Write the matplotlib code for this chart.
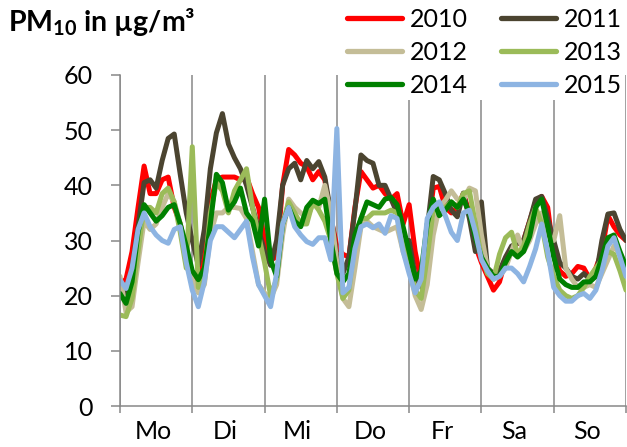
import matplotlib
matplotlib.use("Agg")
import matplotlib.pyplot as plt
import numpy as np

plt.rcParams["font.family"] = ["Lato", "DejaVu Sans"]
plt.rcParams["mathtext.fontset"] = "custom"
plt.rcParams["mathtext.bf"] = "Lato:bold"
plt.rcParams["mathtext.rm"] = "Lato"

# mean PM10 per 2-hour slot over the week, Monday 0h .. Monday 0h (85 values)
days = ["Mo", "Di", "Mi", "Do", "Fr", "Sa", "So"]
years = ["2010", "2011", "2012", "2013", "2014", "2015"]

pm_2010 = [22, 23, 28, 36, 43.5, 38.5, 38.5, 41, 41.5, 36, 33, 28,
           24, 21.5, 27, 37, 41, 41.5, 41.5, 41.5, 41, 41.5, 38.5, 36,
           30, 26.5, 27, 40, 46.5, 45.5, 44, 43.4, 41, 42.5, 41, 34,
           29, 27.5, 27, 36, 42.5, 41, 39.5, 40, 38.5, 37.5, 38.5, 33,
           36.5, 28, 22.5, 31, 39.5, 39.8, 36, 35, 36, 38.5, 35, 29,
           26, 23.5, 21, 22.5, 26.5, 28.5, 29.5, 30, 33.5, 37, 38, 36,
           27.5, 24.5, 23.5, 24, 25.3, 25, 23, 25, 28, 34.5, 32.5, 31,
           30]
pm_2011 = [21.6, 20.5, 25, 32.5, 40.5, 41, 39.5, 44.5, 48.5, 49.3, 42, 35,
           30, 25.5, 32, 43, 49.5, 53, 47.5, 45, 43, 40, 36, 32,
           28, 25.5, 30, 40, 43, 44, 41, 44.5, 43, 44.3, 41.5, 35,
           27, 24, 27, 35.5, 45.5, 44.5, 44, 40, 40, 37.5, 35, 30,
           30, 23.5, 21.6, 32, 41.6, 41, 38.5, 35.5, 34.3, 38.6, 34, 28,
           37, 25, 24, 24.5, 27, 29, 29.5, 30, 33.5, 37.5, 38, 34,
           30, 26, 25, 23.5, 23, 24, 23, 23.5, 30, 34.8, 35, 32,
           30]
pm_2012 = [23.5, 17, 18, 26, 33.5, 32, 33, 36, 38.5, 37, 33, 27,
           23, 20.5, 22, 31, 35, 35, 36, 36, 35.8, 34, 28, 22,
           20.5, 19.5, 22, 31, 37.5, 36, 35, 34, 36.5, 36, 40, 35,
           26, 19.5, 18, 25, 32.5, 33.5, 32.5, 32, 31.5, 32, 32.5, 28,
           25, 20, 17.5, 22, 31, 36, 37.3, 39, 37.5, 37.3, 39.5, 39,
           31, 25, 23, 23.5, 25, 28, 31, 28, 30, 33, 35, 31,
           30, 34.5, 25, 23, 21.5, 21.5, 22, 21.5, 24, 26.5, 29, 27.5,
           22.5]
pm_2013 = [16.5, 16.2, 19.5, 28, 36, 36, 35, 38.5, 39.5, 37, 31.5, 25,
           47, 21.5, 24, 35, 40.5, 39, 35, 39, 41, 43, 36, 31,
           26, 20, 23, 33, 37, 35, 33, 33, 37, 35.5, 33.5, 30,
           24, 19.5, 21, 30, 34, 34, 35, 35, 35, 35.5, 35, 31,
           27, 21, 19.5, 27, 35.5, 36, 36, 37, 36, 38.5, 39, 33,
           27, 24, 23, 27.5, 30.5, 31.5, 27.5, 29, 33, 36, 33, 27,
           23.5, 21, 20, 19.5, 20, 21.5, 23.5, 25, 26.5, 28, 27.5, 24.5,
           21]
pm_2014 = [20.4, 18.6, 22.5, 31.5, 36.5, 35, 33.5, 34.5, 36, 36.5, 33, 29,
           24.5, 22.9, 25, 33, 42, 40.5, 35.5, 37, 39.5, 35, 33.5, 29,
           37.5, 26.5, 23.5, 33, 36, 33.5, 32.5, 36, 37.3, 36.7, 37.5, 30,
           24, 22.5, 24, 31, 34, 37, 36.5, 36, 37.5, 37.8, 36.5, 32.5,
           28, 23, 24.5, 33, 37.5, 34.5, 35.5, 37, 36, 37.5, 35, 30.5,
           27, 25, 23.5, 23.5, 26, 28, 27, 28, 30.7, 36, 37.5, 32.5,
           27, 23, 22, 21.5, 21.5, 22.5, 22.5, 23.5, 27, 30.5, 31, 28,
           25.3]
pm_2015 = [22.8, 21.3, 25, 32, 35, 32.5, 31, 30, 29.5, 32, 32.5, 26,
           21, 18, 22.5, 30, 32.5, 32.5, 31.5, 30.5, 32, 33.5, 27, 22,
           20, 18, 24, 33, 36, 32.5, 31, 29.8, 29.3, 30.5, 30.5, 26.5,
           50.3, 20.5, 21.5, 28.5, 32.5, 33, 32.3, 33, 31.3, 34.5, 34, 28,
           24, 20.5, 23, 34, 36, 37, 34.5, 31.5, 30, 35, 35.5, 31.5,
           26.5, 24.5, 23, 23.5, 25, 25, 24, 22.5, 25.3, 28.5, 33, 28,
           21.5, 20, 19, 19, 20, 20.4, 19.5, 21, 24.5, 29, 30.5, 27,
           23.5]

series = [pm_2010, pm_2011, pm_2012, pm_2013, pm_2014, pm_2015]
colors = ["#ff0000", "#4b4430", "#c4bd97", "#9bbb59", "#008000", "#8db4e2"]

hours = np.arange(0, 169, 2)

fig = plt.figure(figsize=(6.27, 4.47), dpi=100)
ax = fig.add_axes([120 / 627, 1 - 406 / 447, 506 / 627, 331 / 447])

lines = []
for year, vals, col in zip(years, series, colors):
  ln, = ax.plot(hours, vals, color=col, lw=3.6, label=year,
                solid_joinstyle="round", solid_capstyle="round")
  lines.append(ln)

ax.set_xlim(0, 168)
ax.set_ylim(0, 60)

grey = "#888888"
ax.set_yticks(range(0, 61, 10))
ax.set_xticks(range(0, 169, 24))
ax.set_xticklabels([])
ax.set_xticks([12 + 24 * i - 1 for i in range(7)], minor=True)
ax.set_xticklabels(days, minor=True)
ax.tick_params(axis="y", direction="out", length=6.5, width=1.1, color=grey,
               labelsize=18, pad=13)
ax.tick_params(axis="x", which="major", direction="out", length=5, width=1.1,
               color=grey)
ax.tick_params(axis="x", which="minor", length=0, labelsize=18, pad=10)
ax.grid(axis="x", which="major", color=grey, lw=1.1)
ax.set_axisbelow(True)
for side in ["top", "right"]:
  ax.spines[side].set_visible(False)
for side in ["left", "bottom"]:
  ax.spines[side].set_color(grey)
  ax.spines[side].set_linewidth(1.1)

fig.text(8 / 627, 1 - 22 / 447, r"$\mathbf{PM_{10}}$ in µg/m³",
         fontsize=20.5, fontweight="bold", va="center", ha="left")

# legend fills column-first, so reorder to get 2010/2011 on the first row
order = [0, 2, 4, 1, 3, 5]
leg = fig.legend([lines[i] for i in order], [years[i] for i in order],
                 ncol=2, loc="upper right", bbox_to_anchor=(1.0, 1 - 3 / 447),
                 fontsize=18, frameon=True, facecolor="white", edgecolor="none",
                 framealpha=1, handlelength=2.2, handletextpad=0.3,
                 columnspacing=1.35, labelspacing=0.4, borderpad=0.1,
                 borderaxespad=0.1)
for h in leg.legend_handles:
  h.set_linewidth(3.8)
  h.set_solid_capstyle("round")

fig.savefig("out.png", dpi=100)
